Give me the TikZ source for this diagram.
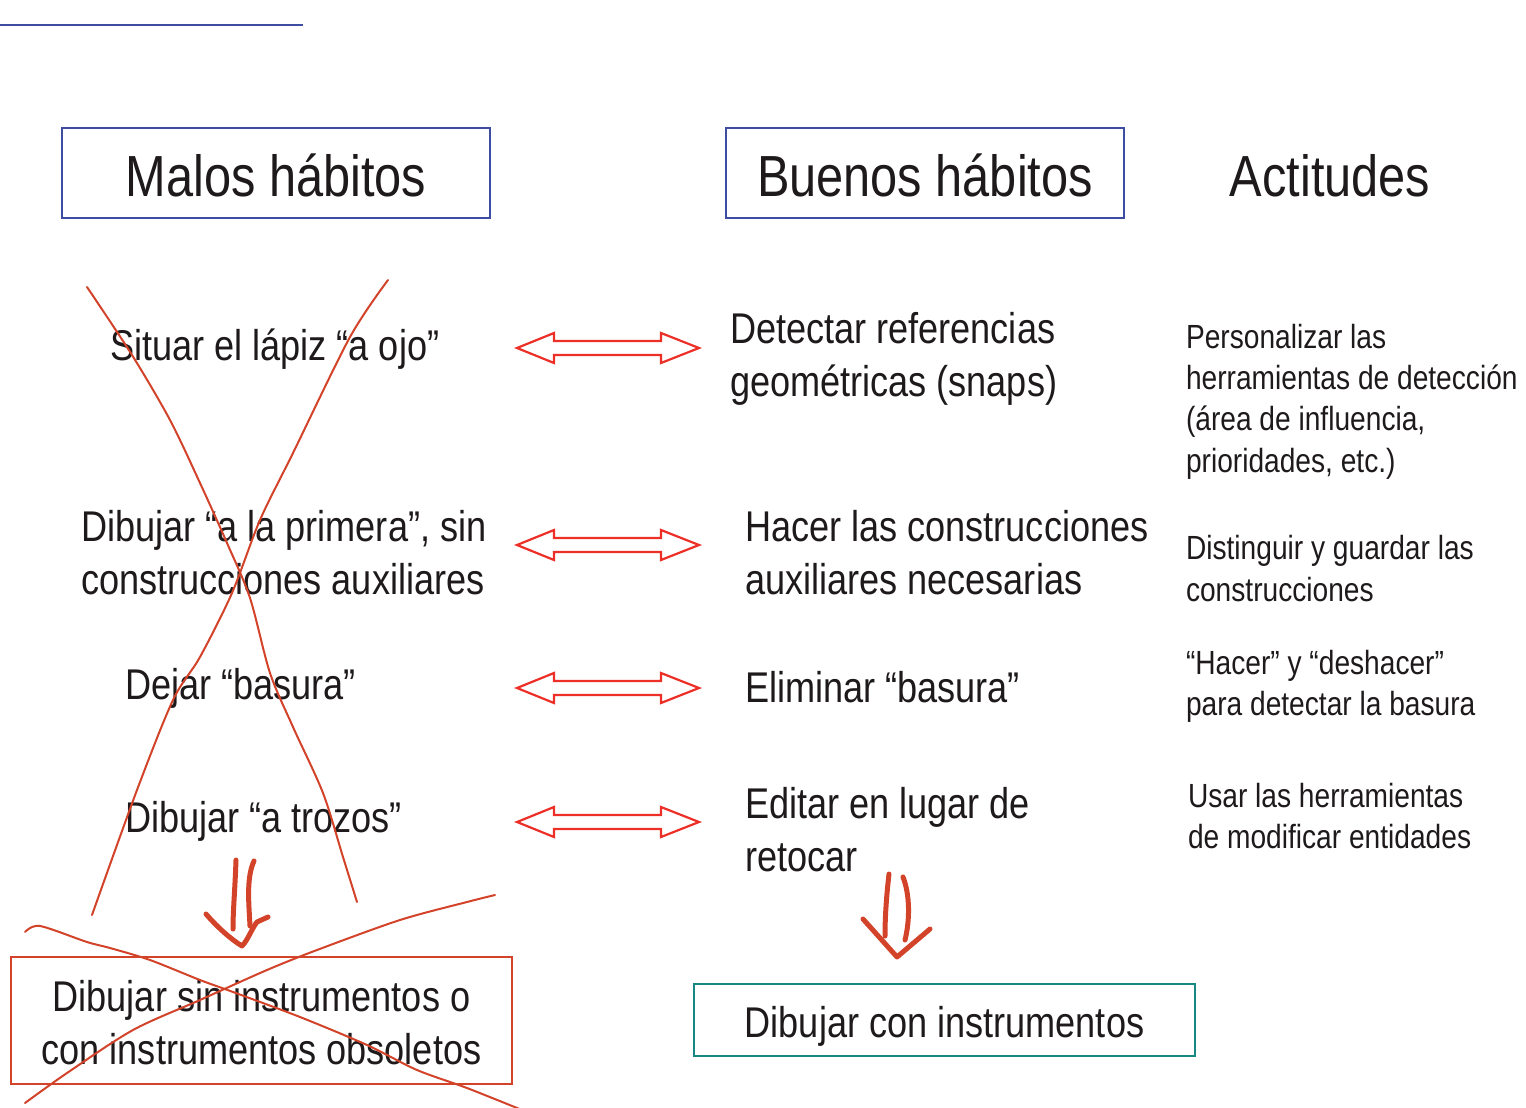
\documentclass[tikz,border=0pt]{standalone}
\usepackage{fontspec}
\setmainfont[FakeStretch=0.84]{Liberation Sans}
\usetikzlibrary{calc}
\definecolor{txt}{HTML}{1E1A1B}
\definecolor{bluebox}{HTML}{3D4EA2}
\definecolor{redarr}{HTML}{EC2F27}
\definecolor{redhand}{HTML}{D2432A}
\definecolor{tealbox}{HTML}{178881}
\begin{document}
\begin{tikzpicture}[x=1pt,y=-1pt,
  every node/.style={inner sep=0pt, outer sep=0pt, text=txt},
  titletext/.style={font=\fontsize{58}{70}\selectfont, anchor=base},
  body/.style={font=\fontsize{43}{53}\selectfont, anchor=base west},
  bodyc/.style={font=\fontsize{43}{53}\selectfont, anchor=base},
  small/.style={font=\fontsize{33.5}{41}\selectfont, anchor=base west},
  hdbox/.style={draw=bluebox, line width=2.5pt, minimum height=90},
  dblarr/.style={draw=redarr, line width=2.2pt, line join=miter},
  hand/.style={draw=redhand, line width=5pt, line cap=round, line join=round},
  crossline/.style={draw=redhand, line width=2pt, line cap=round},
]
\useasboundingbox (0,0) rectangle (1526,1108);

% top rule
\coordinate (ruleA) at (0,25.5);
\coordinate (ruleB) at (303,25.5);
\draw[bluebox, line width=2pt] (ruleA) -- (ruleB);

% headers
\node[hdbox, minimum width=428] (malosbox) at (276,173) {};
\node[titletext] (malos) at (276,196) {Malos hábitos};
\node[hdbox, minimum width=398] (buenosbox) at (925,173) {};
\node[titletext] (buenos) at (925,196) {Buenos hábitos};
\node[titletext] (actitudes) at (1330,196) {Actitudes};

% left column
\node[body] (m1) at (110,360) {Situar el lápiz “a ojo”};
\node[body] (m2a) at (81,541) {Dibujar “a la primera”, sin};
\node[body] (m2b) at (81,594) {construcciones auxiliares};
\node[body] (m3) at (125,699) {Dejar “basura”};
\node[body] (m4) at (125,832) {Dibujar “a trozos”};

% middle column
\node[body] (b1a) at (730,343) {Detectar referencias};
\node[body] (b1b) at (730,396) {geométricas (snaps)};
\node[body] (b2a) at (745,541) {Hacer las construcciones};
\node[body] (b2b) at (745,594) {auxiliares necesarias};
\node[body] (b3) at (745,702) {Eliminar “basura”};
\node[body] (b4a) at (745,818) {Editar en lugar de};
\node[body] (b4b) at (745,871) {retocar};

% right column
\node[small] (a1a) at (1186,348) {Personalizar las};
\node[small] (a1b) at (1186,389) {herramientas de detección};
\node[small] (a1c) at (1186,430) {(área de influencia,};
\node[small] (a1d) at (1186,472) {prioridades, etc.)};
\node[small] (a2a) at (1186,559) {Distinguir y guardar las};
\node[small] (a2b) at (1186,601) {construcciones};
\node[small] (a3a) at (1186,674) {“Hacer” y “deshacer”};
\node[small] (a3b) at (1186,715) {para detectar la basura};
\node[small] (a4a) at (1188,807) {Usar las herramientas};
\node[small] (a4b) at (1188,848) {de modificar entidades};

% double arrows
\foreach \i/\yy in {1/348,2/545,3/688,4/822}{
  \coordinate (L\i) at (517,\yy);
  \coordinate (R\i) at (699,\yy);
  \draw[dblarr] (L\i) -- ($(L\i)+(37,-15)$) -- ($(L\i)+(37,-7)$) -- ($(R\i)+(-38,-7)$)
     -- ($(R\i)+(-38,-15)$) -- (R\i) -- ($(R\i)+(-38,15)$) -- ($(R\i)+(-38,7)$)
     -- ($(L\i)+(37,7)$) -- ($(L\i)+(37,15)$) -- cycle;
}

% bottom boxes
\node[draw=redhand, line width=2.2pt, minimum width=501, minimum height=127] (badbox) at (261.5,1020.5) {};
\node[bodyc] (bad1) at (261.5,1011) {Dibujar sin instrumentos o};
\node[bodyc] (bad2) at (261.5,1064) {con instrumentos obsoletos};
\node[draw=tealbox, line width=2.2pt, minimum width=501, minimum height=72] (goodbox) at (944.5,1020) {};
\node[bodyc] (good) at (944.5,1037) {Dibujar con instrumentos};

% hand-drawn arrows
\draw[hand] (236,860) .. controls (235,890) and (233,910) .. (233,929);
\draw[hand] (254,861) .. controls (246,878) and (249,905) .. (250,926);
\draw[hand] (206,914) .. controls (218,928) and (232,940) .. (242,946)
  .. controls (248,940) and (252,928) .. (257,922) -- (268,917);
\draw[hand] (889,874) .. controls (886,900) and (885,920) .. (885,936);
\draw[hand] (903,877) .. controls (910,895) and (910,920) .. (905,940);
\draw[hand] (863,919) -- (897,957) -- (930,929);

% cross over left column
\draw[crossline] plot[smooth] coordinates {(87,287) (132,355) (170,420) (200,483) (227,543) (250,598) (270,673) (293,727) (323,793) (343,857) (357,902)};
\draw[crossline] plot[smooth] coordinates {(388,280) (350,337) (293,453) (260,520) (232,593) (200,657) (173,700) (137,790) (92,915)};

% cross over bottom-left box
\draw[crossline] plot[smooth] coordinates {(25,932) (40,926) (87,942) (110,948) (150,960) (200,980) (233,992) (300,1017) (367,1045) (417,1070) (467,1088) (522,1110)};
\draw[crossline] plot[smooth] coordinates {(495,895) (467,902) (400,920) (317,950) (267,970) (200,1000) (133,1030) (67,1073) (25,1103)};
\end{tikzpicture}
\end{document}
